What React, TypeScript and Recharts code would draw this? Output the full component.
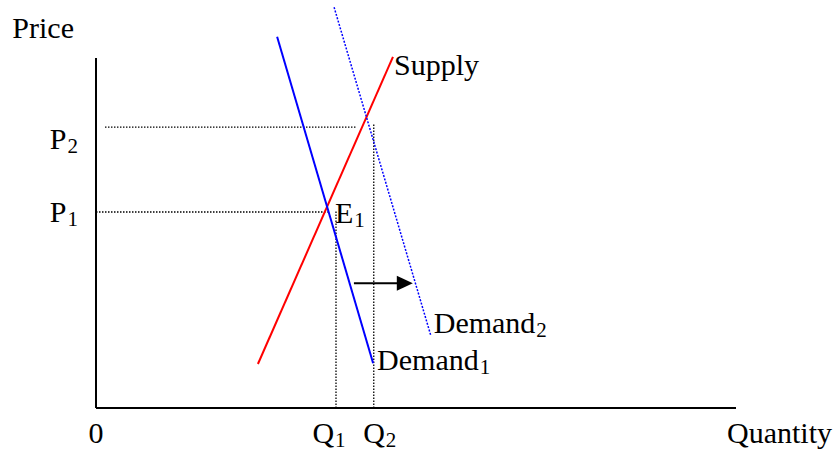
import { LineChart, Line, XAxis, YAxis, ReferenceLine, ReferenceDot } from 'recharts';

// market values (quantity 0-100, price 0-101)
const Q1 = 37.5;
const Q2 = 43.4;
const P1 = 49;
const P2 = 70.2;
const E1_Q = 36.1;

const supply = [
  { q: 25.3, p: 11 },
  { q: 46.4, p: 87.8 },
];
const demand1 = [
  { q: 28.3, p: 92.8 },
  { q: 43.3, p: 11.2 },
];
const demand2 = [
  { q: 37.2, p: 100.2 },
  { q: 52.3, p: 18.2 },
];

const quantityTicks = [0, Q1, Q2];
const quantityLabels = [
  { main: '0', sub: '' },
  { main: 'Q', sub: '1' },
  { main: 'Q', sub: '2' },
];
const priceTicks = [P1, P2];
const priceLabels = [
  { main: 'P', sub: '1' },
  { main: 'P', sub: '2' },
];

const P_AXIS_TOP = 87.5;
const P2_LINE_START = 1.4;
const P2_LINE_END = 40.6;
const P1_LINE_END = 36.2;
const Q1_LINE_TOP = 49.2;
const Q2_LINE_TOP = 71.2;
const SHIFT_P = 31.2;
const SHIFT_FROM = 40.3;
const SHIFT_TO = 49.5;

// small hand nudges so tick labels sit where the original put them
const qNudge = [0, -7, 6];
const pNudge = [10, 22];

const FONT = '"Liberation Serif", "Times New Roman", serif';
const FS = 30;
const SUB = 21;

function Txt({ x, y, main, sub, anchor = 'start' }: any) {
  return (
    <text x={x} y={y} fontFamily={FONT} fontSize={FS} fill="#000" textAnchor={anchor}>
      {main}
      {sub ? (
        <tspan fontSize={SUB} dx={1} dy={4}>
          {sub}
        </tspan>
      ) : null}
    </text>
  );
}

const label = (main: string, sub: string, dx: number, dy: number, anchor = 'start') =>
  (props: any) => <Txt x={props.cx + dx} y={props.cy + dy} main={main} sub={sub} anchor={anchor} />;

const QTick = (props: any) => {
  const l = quantityLabels[props.index];
  return <Txt x={props.x + qNudge[props.index]} y={props.y + 35} main={l.main} sub={l.sub} anchor="middle" />;
};

const PTick = (props: any) => {
  const l = priceLabels[props.index];
  return <Txt x={props.x - 18} y={props.y + pNudge[props.index]} main={l.main} sub={l.sub} anchor="end" />;
};

const arrowHead = (props: any) => (
  <path
    d={`M${props.cx},${props.cy} L${props.cx - 16},${props.cy - 7.5} L${props.cx - 16},${props.cy + 7.5} Z`}
    fill="#000"
  />
);

const dotted = { stroke: '#000', strokeWidth: 1.3, strokeDasharray: '1.5 1.5' };

export default function App() {
  return (
    <div style={{ position: 'absolute', left: 0, top: 0, background: '#fff' }}>
      <LineChart width={837} height={451} margin={{ top: 4, right: 101, bottom: 0, left: 0 }}>
        <XAxis
          type="number"
          dataKey="q"
          domain={[0, 100]}
          allowDataOverflow
          ticks={quantityTicks}
          interval={0}
          tick={<QTick />}
          tickLine={false}
          tickSize={0}
          tickMargin={0}
          height={43}
          axisLine={{ stroke: '#000', strokeWidth: 2 }}
        />
        <YAxis
          type="number"
          dataKey="p"
          domain={[0, 101]}
          allowDataOverflow
          ticks={priceTicks}
          interval={0}
          tick={<PTick />}
          tickLine={false}
          tickSize={0}
          tickMargin={0}
          width={96}
          axisLine={false}
        />
        <ReferenceLine
          segment={[{ x: 0, y: 0 }, { x: 0, y: P_AXIS_TOP }]}
          stroke="#000"
          strokeWidth={2}
        />
        <ReferenceLine segment={[{ x: P2_LINE_START, y: P2 }, { x: P2_LINE_END, y: P2 }]} {...dotted} />
        <ReferenceLine segment={[{ x: 0, y: P1 }, { x: P1_LINE_END, y: P1 }]} {...dotted} />
        <ReferenceLine segment={[{ x: Q1, y: 0 }, { x: Q1, y: Q1_LINE_TOP }]} {...dotted} />
        <ReferenceLine segment={[{ x: Q2, y: 0 }, { x: Q2, y: Q2_LINE_TOP }]} {...dotted} />

        <Line
          data={supply}
          dataKey="p"
          type="linear"
          stroke="#ff0000"
          strokeWidth={2}
          dot={false}
          activeDot={false}
          isAnimationActive={false}
        />
        <Line
          data={demand1}
          dataKey="p"
          type="linear"
          stroke="#0000ff"
          strokeWidth={2}
          dot={false}
          activeDot={false}
          isAnimationActive={false}
        />
        <Line
          data={demand2}
          dataKey="p"
          type="linear"
          stroke="#0000ff"
          strokeWidth={1.5}
          strokeDasharray="2 1.5"
          dot={false}
          activeDot={false}
          isAnimationActive={false}
        />

        <ReferenceLine
          segment={[{ x: SHIFT_FROM, y: SHIFT_P }, { x: SHIFT_TO - 2.2, y: SHIFT_P }]}
          stroke="#000"
          strokeWidth={2}
        />
        <ReferenceDot x={SHIFT_TO} y={SHIFT_P} r={0} shape={arrowHead} />

        <ReferenceDot x={0} y={P_AXIS_TOP} r={0} shape={label('Price', '', -22, -20, 'end')} />
        <ReferenceDot x={100} y={0} r={0} shape={label('Quantity', '', -9, 35)} />
        <ReferenceDot x={supply[1].q} y={supply[1].p} r={0} shape={label('Supply', '', 1, 18)} />
        <ReferenceDot x={E1_Q} y={P1} r={0} shape={label('E', '1', 8, 11)} />
        <ReferenceDot x={demand1[1].q} y={demand1[1].p} r={0} shape={label('Demand', '1', 4, 7)} />
        <ReferenceDot x={demand2[1].q} y={demand2[1].p} r={0} shape={label('Demand', '2', 3, -2)} />
      </LineChart>
    </div>
  );
}
